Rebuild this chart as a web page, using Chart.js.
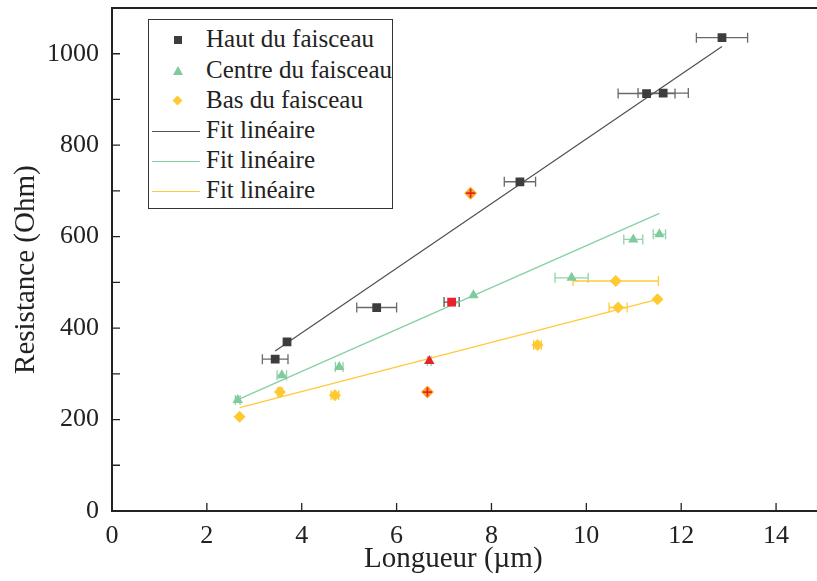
<!DOCTYPE html>
<html>
<head>
<meta charset="utf-8">
<script src="https://cdn.jsdelivr.net/npm/chart.js@4/dist/chart.umd.min.js"></script>
<style>
  html, body { margin: 0; padding: 0; background: #fff; overflow: hidden; width: 817px; height: 581px; }
  #wrap { position: absolute; left: 0; top: 0; }
  #legend { position: absolute; left: 148px; top: 19px; width: 243px; height: 188px;
    border: 1.5px solid #333; background: #fff; font-family: 'Liberation Serif', Tinos, 'Times New Roman', 'DejaVu Serif', serif;
    font-size: 25px; color: #222; }
  .row { position: absolute; left: 0; height: 30px; line-height: 30px; width: 100%; }
  .row span { position: absolute; left: 57px; top: -1px; white-space: nowrap; }
  .sym { position: absolute; }
  .ln { position: absolute; left: 3px; width: 48px; height: 0; top: 15px; }
</style>
</head>
<body>
<div id="wrap"><canvas id="myChart" width="830" height="581"></canvas></div>
<div id="legend">
  <div class="row" style="top:5px"><div class="sym" style="left:25px;top:11px;width:8px;height:8px;background:#3d3d3d"></div><span>Haut du faisceau</span></div>
  <div class="row" style="top:36px"><div class="sym" style="left:24px;top:10px;width:0;height:0;border-left:5px solid transparent;border-right:5px solid transparent;border-bottom:9px solid #7fcb9c"></div><span>Centre du faisceau</span></div>
  <div class="row" style="top:66px"><div class="sym" style="left:25px;top:11px;width:7px;height:7px;background:#ffc931;transform:rotate(45deg)"></div><span>Bas du faisceau</span></div>
  <div class="row" style="top:96px"><div class="ln" style="border-top:1.3px solid #555"></div><span>Fit linéaire</span></div>
  <div class="row" style="top:126px"><div class="ln" style="border-top:1.3px solid #86d0a3"></div><span>Fit linéaire</span></div>
  <div class="row" style="top:156px"><div class="ln" style="border-top:1.3px solid #ffca3a"></div><span>Fit linéaire</span></div>
</div>
<script>
// Haut du faisceau
var hautX = [3.44, 3.69, 5.58, 8.60, 11.27, 11.62, 12.86];
var hautY = [332, 370, 445, 720, 913, 914, 1035];
var hautErr = [0.27, 0, 0.42, 0.33, 0.60, 0.53, 0.54];
var hautMaskX = [7.16];
var hautMaskY = [457];
var hautMaskErr = [0.16];
// Centre du faisceau
var centreX = [2.65, 3.58, 4.79, 7.62, 9.69, 10.99, 11.54];
var centreY = [243, 297, 315, 472, 510, 594, 605];
var centreErr = [0.05, 0.10, 0.08, 0, 0.35, 0.20, 0.13];
var centreMaskX = [6.69];
var centreMaskY = [328];
var centreMaskErr = [0.04];
// Bas du faisceau
var basX = [2.69, 3.54, 4.70, 8.97, 10.62, 10.67, 11.50];
var basY = [206, 260, 253, 363, 503, 445, 463];
var basErr = [0, 0.05, 0.08, 0.08, 0.90, 0.19, 0];
var basMaskX = [6.65, 7.56];
var basMaskY = [260, 695];
var basMaskErr = [0, 0];
// fits lineaires (extremites)
var hautFitX = [3.44, 12.86];
var hautFitY = [350, 1016];
var centreFitX = [2.69, 11.54];
var centreFitY = [245, 651];
var basFitX = [2.69, 11.50];
var basFitY = [226, 463];

var xTicks = [0, 2, 4, 6, 8, 10, 12, 14];
var yTicks = [0, 200, 400, 600, 800, 1000];
var yMinor = [100, 300, 500, 700, 900];

function pts(xs, ys, es) {
  return xs.map(function (x, i) { return { x: x, y: ys[i], e: es ? es[i] : 0 }; });
}

var cHaut = '#3d3d3d', cCentre = '#7fcb9c', cBas = '#ffc931', cRed = '#e8222a';

const errorBars = {
  id: 'errorBars',
  beforeDatasetsDraw(chart) {
    const ctx = chart.ctx, xs = chart.scales.x, ys = chart.scales.y;
    ctx.save();
    chart.data.datasets.forEach(function (ds) {
      if (!ds.errColor) return;
      ctx.strokeStyle = ds.errColor;
      ctx.lineWidth = 1.3;
      ds.data.forEach(function (p) {
        if (!p.e) return;
        var x1 = xs.getPixelForValue(p.x - p.e), x2 = xs.getPixelForValue(p.x + p.e), y = ys.getPixelForValue(p.y);
        ctx.beginPath();
        ctx.moveTo(x1, y); ctx.lineTo(x2, y);
        ctx.moveTo(x1, y - 5); ctx.lineTo(x1, y + 5);
        ctx.moveTo(x2, y - 5); ctx.lineTo(x2, y + 5);
        ctx.stroke();
      });
    });
    ctx.restore();
  }
};

const axisTicks = {
  id: 'axisTicks',
  afterDraw(chart) {
    const ctx = chart.ctx, xs = chart.scales.x, ys = chart.scales.y, a = chart.chartArea;
    ctx.save();
    ctx.strokeStyle = '#222';
    ctx.lineWidth = 1.3;
    ctx.beginPath();
    xTicks.forEach(function (v) {
      var px = xs.getPixelForValue(v);
      ctx.moveTo(px, a.bottom); ctx.lineTo(px, a.bottom - 8);
    });
    yTicks.concat(yMinor).forEach(function (v) {
      var py = ys.getPixelForValue(v);
      ctx.moveTo(a.left, py); ctx.lineTo(a.left + 8, py);
    });
    ctx.stroke();
    ctx.lineWidth = 2;
    ctx.beginPath();
    ctx.moveTo(a.left, a.top); ctx.lineTo(a.right, a.top);
    ctx.stroke();
    ctx.restore();
  }
};

var serif = "'Liberation Serif', Tinos, 'Times New Roman', 'DejaVu Serif', serif";

var ctx = document.getElementById('myChart').getContext('2d');
var myChart = new Chart(ctx, {
  type: 'scatter',
  data: {
    datasets: [
      { label: 'Fit haut', type: 'line', order: 5, data: pts(hautFitX, hautFitY), borderColor: '#505050', borderWidth: 1.2, pointRadius: 0, fill: false },
      { label: 'Fit centre', type: 'line', order: 5, data: pts(centreFitX, centreFitY), borderColor: '#86d0a3', borderWidth: 1.3, pointRadius: 0, fill: false },
      { label: 'Fit bas', type: 'line', order: 5, data: pts(basFitX, basFitY), borderColor: '#ffca3a', borderWidth: 1.3, pointRadius: 0, fill: false },
      { label: 'Haut du faisceau', order: 3, data: pts(hautX, hautY, hautErr), errColor: '#6a6a6a', pointStyle: 'rect', pointRadius: 6.2, backgroundColor: cHaut, borderColor: cHaut, borderWidth: 0 },
      { label: 'Centre du faisceau', order: 3, data: pts(centreX, centreY, centreErr), errColor: '#8fd3a9', pointStyle: 'triangle', pointRadius: 6, backgroundColor: cCentre, borderColor: cCentre, borderWidth: 0 },
      { label: 'Bas du faisceau', order: 3, data: pts(basX, basY, basErr), errColor: '#ffcb3a', pointStyle: 'rectRot', pointRadius: 6, backgroundColor: cBas, borderColor: cBas, borderWidth: 0 },
      { label: 'Haut masque', order: 2, data: pts(hautMaskX, hautMaskY, hautMaskErr), errColor: '#555', pointStyle: 'rect', pointRadius: 6.2, backgroundColor: cRed, borderColor: cRed, borderWidth: 0 },
      { label: 'Centre masque', order: 2, data: pts(centreMaskX, centreMaskY, centreMaskErr), errColor: '#8fd3a9', pointStyle: 'triangle', pointRadius: 6, backgroundColor: cRed, borderColor: cRed, borderWidth: 0 },
      { label: 'Bas masque', order: 2, data: pts(basMaskX, basMaskY, basMaskErr), pointStyle: 'rectRot', pointRadius: 6.5, backgroundColor: '#f9a825', borderColor: '#f9a825', borderWidth: 0 },
      { label: 'Bas masque croix', order: 1, data: pts(basMaskX, basMaskY), pointStyle: 'cross', pointRadius: 4.5, backgroundColor: cRed, borderColor: cRed, borderWidth: 1.8 }
    ]
  },
  plugins: [errorBars, axisTicks],
  options: {
    responsive: false,
    animation: false,
    layout: { padding: { top: 8, right: 5.5, left: 0, bottom: 0 } },
    plugins: { legend: { display: false }, tooltip: { enabled: false } },
    scales: {
      x: {
        type: 'linear', min: 0, max: 15,
        afterFit: function (s) { s.height = 70; s.paddingLeft = 0; s.paddingRight = 0; },
        afterBuildTicks: function (s) { s.ticks = xTicks.map(function (v) { return { value: v }; }); },
        grid: { display: false },
        border: { display: true, color: '#222', width: 2 },
        ticks: { color: '#222', padding: 2, font: { family: serif, size: 26 }, callback: function (v) { return String(v); } },
        title: { display: true, text: 'Longueur (µm)\u2003', color: '#222', padding: { top: 0, bottom: 4 }, font: { family: serif, size: 29 } }
      },
      y: {
        type: 'linear', min: 0, max: 1100,
        afterFit: function (s) { s.width = 112; s.paddingTop = 0; s.paddingBottom = 0; },
        afterBuildTicks: function (s) { s.ticks = yTicks.map(function (v) { return { value: v }; }); },
        grid: { display: false },
        border: { display: true, color: '#222', width: 2 },
        ticks: { color: '#222', padding: 5, font: { family: serif, size: 26 }, callback: function (v) { return String(v); } },
        title: { display: true, text: 'Resistance (Ohm)\u2002\u2009', color: '#222', padding: { top: 9, bottom: 0 }, font: { family: serif, size: 29 } }
      }
    }
  }
});
</script>
</body>
</html>
